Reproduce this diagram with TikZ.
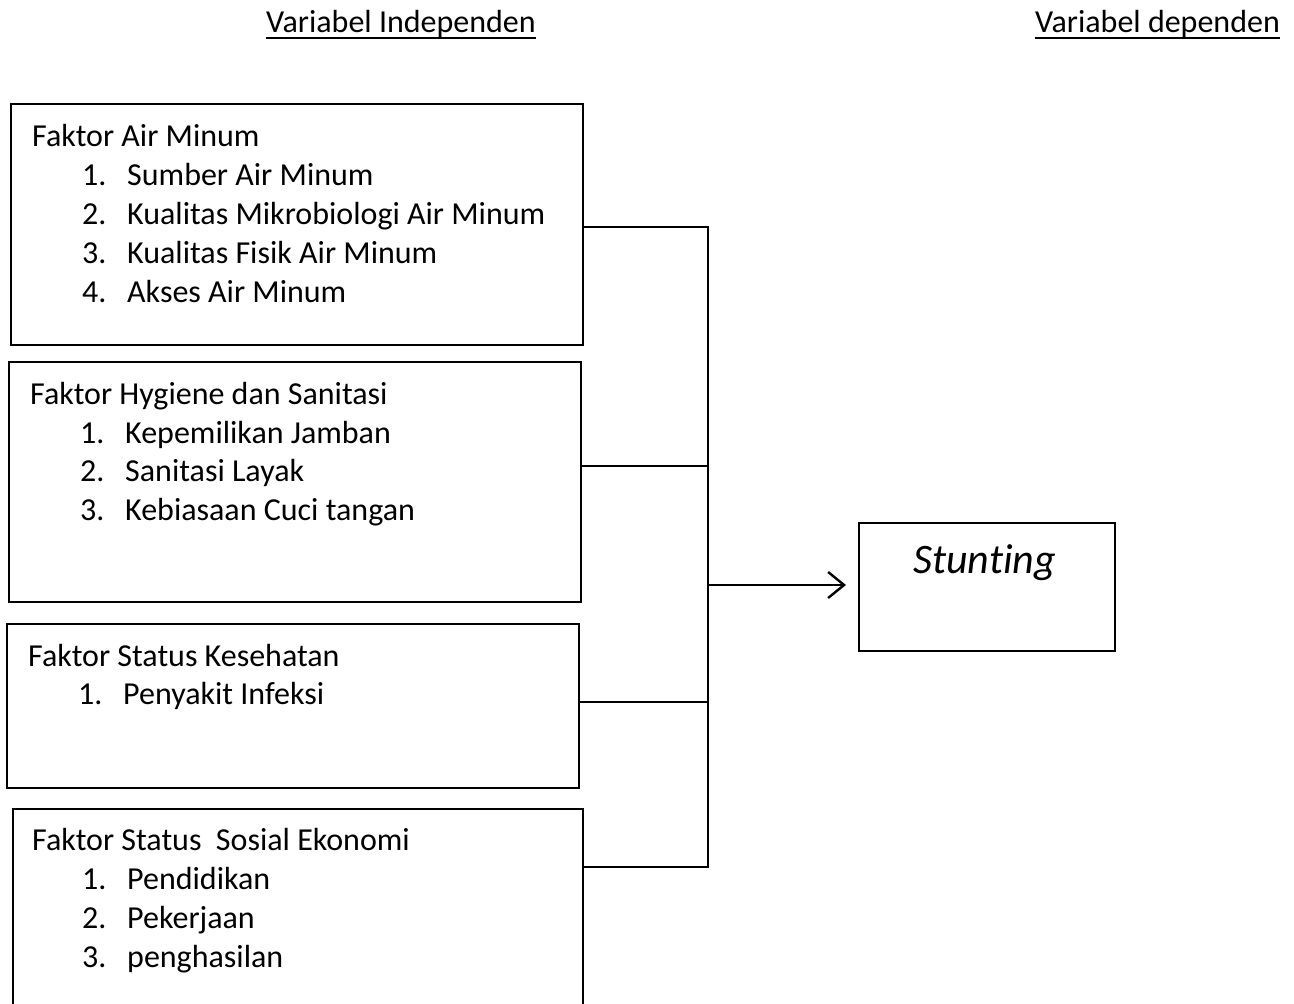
\documentclass[tikz,border=0pt]{standalone}
\usepackage{fontspec}
\setmainfont{Carlito}[Ligatures=NoCommon]
\usetikzlibrary{arrows.meta}
\begin{document}
\begin{tikzpicture}[x=1pt,y=-1pt,
  box/.style={draw, line width=2.4pt, inner sep=0pt, anchor=north west},
  txt/.style={anchor=base west, inner sep=0pt, font=\fontsize{32}{39}\selectfont},
  conn/.style={line width=2.4pt},
  ulin/.style={line width=2.6pt}]
\clip (0,0) rectangle (1294,1004);
\path[use as bounding box] (0,0) rectangle (1294,1004);

% column headings
\node[txt] (h1) at (266,32) {Variabel Independen};
\node[txt] (h2) at (1035,32) {Variabel dependen};
\draw[ulin] ([yshift=-6pt]h1.base west) -- ([yshift=-6pt]h1.base east);
\draw[ulin] ([yshift=-6pt]h2.base west) -- ([yshift=-6pt]h2.base east);

% factor boxes
\node[box, minimum width=572pt, minimum height=241pt] (b1) at (10,103) {};
\node[box, minimum width=572pt, minimum height=240pt] (b2) at (8,361) {};
\node[box, minimum width=572pt, minimum height=164pt] (b3) at (6,623) {};
\node[box, minimum width=570pt, minimum height=240pt] (b4) at (12,808) {};

% dependent variable box (kern keeps the t and i apart)
\node[box, minimum width=256pt, minimum height=128pt] (st) at (858,522) {};
\node[anchor=base west, inner sep=0pt, font=\fontsize{42}{48}\selectfont\itshape] (stt) at (913,573) {Stunt\kern0pt ing};

% box 1 text
\node[txt] (a0) at (32,146) {Faktor Air Minum};
\node[txt] (a1n) at (82,185) {1.};
\node[txt] (a1) at (127,185) {Sumber Air Minum};
\node[txt] (a2n) at (82,224) {2.};
\node[txt] (a2) at (127,224) {Kualitas Mikrobiologi Air Minum};
\node[txt] (a3n) at (82,263) {3.};
\node[txt] (a3) at (127,263) {Kualitas Fisik Air Minum};
\node[txt] (a4n) at (82,302) {4.};
\node[txt] (a4) at (127,302) {Akses Air Minum};

% box 2 text
\node[txt] (c0) at (30,404) {Faktor Hygiene dan Sanitasi};
\node[txt] (c1n) at (80,443) {1.};
\node[txt] (c1) at (125,443) {Kepemilikan Jamban};
\node[txt] (c2n) at (80,481) {2.};
\node[txt] (c2) at (125,481) {Sanitasi Layak};
\node[txt] (c3n) at (80,520) {3.};
\node[txt] (c3) at (125,520) {Kebiasaan Cuci tangan};

% box 3 text
\node[txt] (d0) at (28,666) {Faktor Status Kesehatan};
\node[txt] (d1n) at (78,704) {1.};
\node[txt] (d1) at (123,704) {Penyakit Infeksi};

% box 4 text
\node[txt] (e0) at (32,850) {Faktor Status\ \ Sosial Ekonomi};
\node[txt] (e1n) at (82,889) {1.};
\node[txt] (e1) at (127,889) {Pendidikan};
\node[txt] (e2n) at (82,928) {2.};
\node[txt] (e2) at (127,928) {Pekerjaan};
\node[txt] (e3n) at (82,967) {3.};
\node[txt] (e3) at (127,967) {penghasilan};

% bus junctions
\coordinate (j1) at (708,227);
\coordinate (j2) at (708,466);
\coordinate (j3) at (708,702);
\coordinate (j4) at (708,867);
\coordinate (ja) at (708,585);

% connectors
\draw[conn] (b1.east |- j1) -- (j1) -- (j4) -- (b4.east |- j4);
\draw[conn] (b2.east |- j2) -- (j2);
\draw[conn] (b3.east |- j3) -- (j3);
\draw[conn, -{Straight Barb[length=16pt,width=26pt,line width=2.4pt]}, shorten >=12pt] (ja) -- (st.west |- ja);
\end{tikzpicture}
\end{document}
